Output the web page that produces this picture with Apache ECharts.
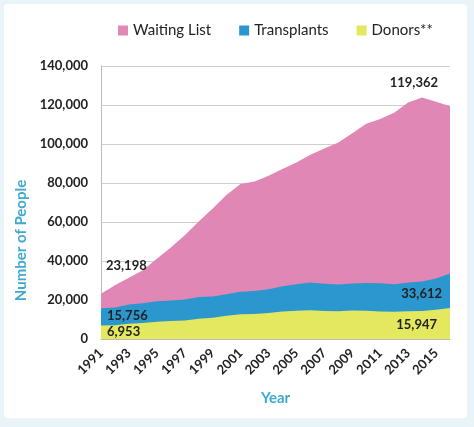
<!DOCTYPE html>
<html>
<head>
<meta charset="utf-8">
<script src="https://cdn.jsdelivr.net/npm/echarts@6/dist/echarts.min.js"></script>
<style>
html,body{margin:0;padding:0;background:#e9f4f8;}
#frame{position:absolute;left:4px;top:4px;width:463px;height:414px;background:#fff;border-radius:4px;}
#chart{position:absolute;left:0;top:0;width:474px;height:427px;}
</style>
</head>
<body>
<div id="frame"></div>
<div id="chart"></div>
<script>
const years = ['1991','1992','1993','1994','1995','1996','1997','1998','1999','2000','2001','2002','2003','2004','2005','2006','2007','2008','2009','2010','2011','2012','2013','2014','2015','2016'];
const waitingList = [23198,27563,31355,35271,41179,46986,53167,60299,66961,73951,79512,80790,83731,87146,90526,94441,97670,100775,105567,110375,112766,116044,121272,123851,121678,119362];
const transplants = [15756,16134,17631,18298,19396,19751,20315,21510,21824,23004,24193,24553,25469,27039,28117,28941,28356,27966,28465,28664,28535,28052,28954,29532,30973,33612];
const donors = [6953,7092,7766,8203,8863,9220,9541,10361,10868,11934,12702,12822,13285,14154,14497,14756,14400,14207,14632,14505,14145,14013,14257,14412,15064,15947];
const yTicks = [0,20000,40000,60000,80000,100000,120000,140000];

const fontFam = 'Lato, "Open Sans", sans-serif';
const labelStyle = {fontFamily: fontFam, fontSize: 13, color: '#222', fontWeight: 'bold'};

function withLabels(values, firstLbl, lastLbl) {
  return values.map((v, i) => {
    if (i === 0) return {value: v, label: Object.assign({show: true, formatter: () => v.toLocaleString('en-US')}, labelStyle, firstLbl)};
    if (i === values.length - 1) return {value: v, label: Object.assign({show: true, formatter: () => v.toLocaleString('en-US')}, labelStyle, lastLbl)};
    return v;
  });
}

const chart = echarts.init(document.getElementById('chart'), null, {renderer: 'canvas'});
chart.setOption({
  animation: false,
  backgroundColor: 'transparent',
  legend: {
    top: 18, left: 113,
    itemWidth: 10, itemHeight: 10, itemGap: 28,
    icon: 'rect',
    textStyle: {fontFamily: fontFam, fontSize: 15, color: '#222'},
    data: ['Waiting List', 'Transplants', 'Donors**']
  },
  grid: {left: 101, right: 24, top: 66, bottom: 88, containLabel: false},
  xAxis: {
    type: 'category', data: years, boundaryGap: false,
    axisLine: {lineStyle: {color: '#bbb'}},
    axisTick: {show: false},
    axisLabel: {interval: 1, rotate: 45, margin: 12, fontFamily: fontFam, fontSize: 13, color: '#222', fontWeight: 'bold'},
    name: 'Year', nameLocation: 'middle', nameGap: 52,
    nameTextStyle: {fontFamily: fontFam, fontSize: 15, fontWeight: 'bold', color: '#3fa9cf'}
  },
  yAxis: {
    type: 'value', min: yTicks[0], max: yTicks[yTicks.length-1], interval: yTicks[1]-yTicks[0],
    axisLine: {show: true, lineStyle: {color: '#bbb'}},
    axisTick: {show: false},
    splitLine: {lineStyle: {color: '#cfcfcf'}},
    axisLabel: {margin: 13, fontFamily: fontFam, fontSize: 13, color: '#222', fontWeight: 'bold',
      formatter: v => v.toLocaleString('en-US')},
    name: 'Number of People', nameLocation: 'middle', nameGap: 72, nameRotate: 90,
    nameTextStyle: {fontFamily: fontFam, fontSize: 15, fontWeight: 'bold', color: '#3fa9cf', padding: [0, 76, 0, 0]}
  },
  series: [
    {name: 'Waiting List', type: 'line', symbol: 'circle', symbolSize: 0, showAllSymbol: true,
     lineStyle: {width: 0}, itemStyle: {color: '#e087b5'}, areaStyle: {color: '#e087b5', opacity: 1},
     data: withLabels(waitingList, {position: 'right', distance: 5, offset: [0, -28]}, {position: 'left', distance: 12, offset: [0, -23]})},
    {name: 'Transplants', type: 'line', symbol: 'circle', symbolSize: 0, showAllSymbol: true,
     lineStyle: {width: 0}, itemStyle: {color: '#2b97cf'}, areaStyle: {color: '#2b97cf', opacity: 1},
     data: withLabels(transplants, {position: 'right', distance: 6, offset: [0, 8]}, {position: 'left', distance: 8, offset: [0, 20]})},
    {name: 'Donors**', type: 'line', symbol: 'circle', symbolSize: 0, showAllSymbol: true,
     lineStyle: {width: 0}, itemStyle: {color: '#e3e85f'}, areaStyle: {color: '#e3e85f', opacity: 1},
     data: withLabels(donors, {position: 'right', distance: 6, offset: [0, 6]}, {position: 'left', distance: 13, offset: [0, 17]})}
  ]
});
</script>
</body>
</html>
